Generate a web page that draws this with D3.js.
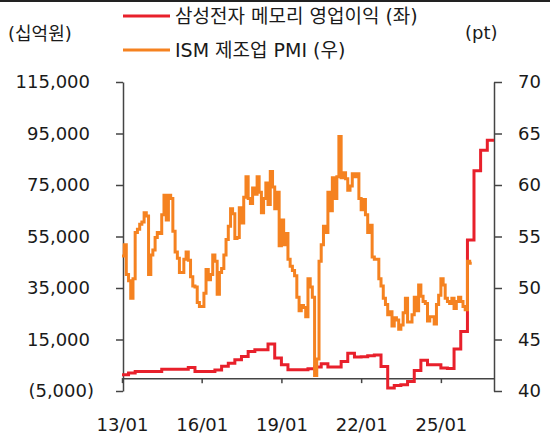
<!DOCTYPE html>
<html>
<head>
<meta charset="utf-8">
<script src="https://cdn.jsdelivr.net/npm/d3@7"></script>
<style>
  body { margin: 0; background: #fff; }
  svg text { font-family: "DejaVu Sans", "Noto Sans CJK KR", sans-serif; fill: #1a1a1a; }
</style>
</head>
<body>
<svg id="chart" width="550" height="443"></svg>
<script>
// 삼성전자 메모리 영업이익 (십억원), quarterly from 2013Q1
const profitValues = [
  1300, 2000, 2600, 2600, 2600, 2600, 3400, 3400, 3400, 3400,
  4100, 2600, 2600, 2600, 3200, 4600, 5800, 7100, 8400, 10300,
  11000, 11000, 13300, 7800, 5200, 3250, 3250, 3250, 3600, 4300,
  5600, 4300, 4300, 6500, 9700, 8200, 8300, 8700, 9000, 4500,
  -3800, -2900, -2600, -1300, 3000, 6900, 5200, 5200, 3900, 3700,
  11300, 18100, 53600, 80500, 88500, 92400
];

// ISM 제조업 PMI, monthly from 2013-01
const pmiValues = [
  53.1, 54.2, 51.3, 50.7, 49.0, 50.9, 55.4, 55.7, 56.2, 56.4, 57.3, 57.0,
  51.3, 53.2, 53.7, 54.9, 55.4, 55.3, 57.1, 59.0, 56.6, 59.0, 58.7, 55.5,
  53.5, 52.9, 51.5, 51.5, 52.8, 53.5, 52.7, 51.1, 50.2, 50.1, 48.6, 48.2,
  48.2, 49.5, 51.8, 50.8, 51.3, 53.2, 52.6, 49.4, 51.5, 51.9, 53.2, 54.7,
  56.0, 57.7, 57.2, 54.8, 54.9, 57.8, 56.3, 58.8, 60.8, 58.7, 58.2, 59.7,
  59.1, 60.8, 59.3, 57.3, 58.7, 60.2, 58.1, 61.3, 59.8, 57.7, 59.3, 54.1,
  56.6, 54.2, 55.3, 52.8, 52.1, 51.7, 51.2, 49.1, 47.8, 48.3, 48.1, 47.2,
  50.9, 50.1, 49.1, 41.5, 43.1, 52.6, 54.2, 56.0, 55.4, 59.3, 57.5, 60.7,
  58.7, 60.8, 64.7, 60.7, 61.2, 60.6, 59.5, 59.9, 61.1, 60.8, 61.1, 58.7,
  57.6, 58.6, 57.1, 55.4, 56.1, 53.0, 52.8, 52.8, 50.9, 50.2, 49.0, 48.4,
  47.4, 47.7, 46.3, 47.1, 46.9, 46.0, 46.4, 47.6, 49.0, 46.7, 46.7, 47.4,
  49.1, 47.8, 50.3, 49.2, 48.7, 48.5, 46.8, 47.2, 47.2, 46.5, 48.4, 49.3,
  50.9, 50.3, 49.0, 48.7, 48.5, 49.0, 48.0, 48.7, 49.1, 48.7, 48.2, 47.9,
  52.6, 52.4
];

const leftTicks = [-5000, 15000, 35000, 55000, 75000, 95000, 115000];
const rightTicks = [40, 45, 50, 55, 60, 65, 70];
const xTickYears = [2013, 2016, 2019, 2022, 2025];

const svg = d3.select("#chart");

const x = d3.scaleTime()
  .domain([new Date(2013, 0, 1), new Date(2027, 0, 1)])
  .range([122, 494]);
const yL = d3.scaleLinear().domain([-5000, 115000]).range([391, 82]);
const yR = d3.scaleLinear().domain([40, 70]).range([391, 82]);

// each value holds until the end of its period
const profitData = profitValues.map((v, i) => ({ date: new Date(2013, i * 3, 1), v }));
profitData.push({ date: new Date(2013, profitValues.length * 3, 1), v: profitValues[profitValues.length - 1] });

const pmiData = pmiValues.map((v, i) => ({ date: new Date(2013, i, 1), v }));
pmiData.push({ date: new Date(2013, pmiValues.length, 1), v: pmiValues[pmiValues.length - 1] });

// top border
svg.append("rect").attr("x", 0).attr("y", 0).attr("width", 550).attr("height", 2).attr("fill", "#222");

const fmtLeft = (d) => d < 0 ? `(${d3.format(",")(-d)})` : d3.format(",")(d);

const axisColor = "#444";

const gLeft = svg.append("g")
  .attr("transform", "translate(123,0)")
  .call(d3.axisLeft(yL).tickValues(leftTicks).tickFormat(fmtLeft).tickSize(7).tickSizeOuter(0).tickPadding(26));

const gRight = svg.append("g")
  .attr("transform", "translate(494,0)")
  .call(d3.axisRight(yR).tickValues(rightTicks).tickSize(8).tickSizeOuter(0).tickPadding(16));

const gX = svg.append("g")
  .attr("transform", `translate(0,${yL(0)})`)
  .call(d3.axisBottom(x)
    .tickValues(xTickYears.map((yr) => new Date(yr, 0, 1)))
    .tickFormat(d3.timeFormat("%y/%m"))
    .tickSize(5).tickSizeOuter(0).tickPadding(35));

[gLeft, gRight, gX].forEach((g) => {
  g.attr("font-family", null).attr("font-size", null);
  g.selectAll("path, line").attr("stroke", axisColor).attr("stroke-width", 1.5);
  g.selectAll("text").style("font-size", "18px").attr("fill", "#1a1a1a");
});
// parenthesis hangs past the digits
gLeft.selectAll(".tick text").filter((d) => d < 0).attr("dx", "4");

const line = d3.line()
  .curve(d3.curveStepAfter)
  .x((d) => x(d.date));

svg.append("path")
  .datum(profitData)
  .attr("fill", "none")
  .attr("stroke", "#e8202b")
  .attr("stroke-width", 3)
  .attr("d", line.y((d) => yL(d.v)));

svg.append("path")
  .datum(pmiData)
  .attr("fill", "none")
  .attr("stroke", "#f58220")
  .attr("stroke-width", 3)
  .attr("d", line.y((d) => yR(d.v)));

// legend and unit labels
const legend = [
  { label: "삼성전자 메모리 영업이익 (좌)", color: "#e8202b", y: 16 },
  { label: "ISM 제조업 PMI (우)", color: "#f58220", y: 50 },
];
legend.forEach((l) => {
  svg.append("line")
    .attr("x1", 123).attr("x2", 170)
    .attr("y1", l.y).attr("y2", l.y)
    .attr("stroke", l.color).attr("stroke-width", 3);
  svg.append("text")
    .attr("x", 175).attr("y", l.y)
    .attr("dominant-baseline", "central")
    .style("font-size", "19px")
    .text(l.label);
});

svg.append("text").attr("x", 8).attr("y", 33)
  .attr("dominant-baseline", "central").style("font-size", "18px").text("(십억원)");
svg.append("text").attr("x", 465).attr("y", 32)
  .attr("dominant-baseline", "central").style("font-size", "18px").text("(pt)");
</script>
</body>
</html>
